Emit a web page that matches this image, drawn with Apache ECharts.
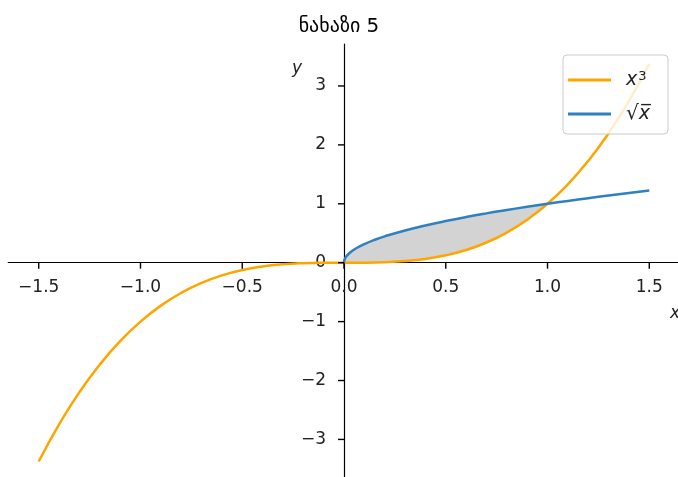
<!DOCTYPE html>
<html>
<head>
<meta charset="utf-8">
<script src="https://cdn.jsdelivr.net/npm/echarts@6/dist/echarts.min.js"></script>
<style>html,body{margin:0;padding:0;background:#fff}#c{width:678px;height:477px}</style>
</head>
<body>
<div id="c"></div>
<script>
// ---- data ----
const titleText = 'ნახაზი 5';
const cubeName = 'x³';
const rootName = '√x';
const cubeX = [-1.5,-1.4,-1.3,-1.2,-1.1,-1.0,-0.9,-0.8,-0.7,-0.6,-0.5,-0.4,-0.3,-0.2,-0.1,0,
               0.1,0.2,0.3,0.4,0.5,0.6,0.7,0.8,0.9,1.0,1.1,1.2,1.3,1.4,1.5];
const cubeY = [-3.375,-2.744,-2.197,-1.728,-1.331,-1.0,-0.729,-0.512,-0.343,-0.216,-0.125,-0.064,-0.027,-0.008,-0.001,0,
               0.001,0.008,0.027,0.064,0.125,0.216,0.343,0.512,0.729,1.0,1.331,1.728,2.197,2.744,3.375];
const rootX = [0,0.002,0.01,0.03,0.06,0.1,0.15,0.2,0.3,0.4,0.5,0.6,0.7,0.8,0.9,1.0,1.1,1.2,1.3,1.4,1.5];
const rootY = [0,0.045,0.1,0.173,0.245,0.316,0.387,0.447,0.548,0.632,0.707,0.775,0.837,0.894,0.949,1.0,1.049,1.095,1.140,1.183,1.225];
const xTicks = [-1.5,-1.0,-0.5,0,0.5,1.0,1.5];
const xTickLabels = ['−1.5','−1.0','−0.5','0.0','0.5','1.0','1.5'];
const yTicks = [-3,-2,-1,0,1,2,3];
const yTickLabels = ['−3','−2','−1','0','1','2','3'];
const shadeFrom = 0, shadeTo = 1;

// ---- build series data ----
const cubeData = cubeX.map((x,i)=>[x,cubeY[i]]);
const rootData = rootX.map((x,i)=>[x,rootY[i]]);
const shadeTop = rootData.filter(p=>p[0]>=shadeFrom && p[0]<=shadeTo);
const shadeBottom = cubeData.filter(p=>p[0]>=shadeFrom && p[0]<=shadeTo).reverse();
const shadePoly = shadeTop.concat(shadeBottom);

// ---- layout (pixels) ----
const W = 678, H = 477;
const G = {left:8.2, right:-1.8, top:44, bottom:-4.4};
const XMIN = -1.65, XMAX = 1.65, YMIN = -3.7125, YMAX = 3.7125;
const gridW = W - G.left - G.right, gridH = H - G.top - G.bottom;
// label axes are shifted onto the origin (matplotlib "zero" spines)
const xAxisOffset = -gridH * (0 - YMIN) / (YMAX - YMIN);
const yAxisOffset = -gridW * (0 - XMIN) / (XMAX - XMIN);
const TICK_LEN = 6, TICK_W = 1.4;

const FONT = 'DejaVu Sans';
const fmt = (ticks, labels) => function(v){ const k = ticks.findIndex(t=>Math.abs(t-v)<1e-9); return k>=0?labels[k]:''; };
const spine = {color:'#000', width:1.2};

const chart = echarts.init(document.getElementById('c'), null, {renderer:'canvas'});
chart.setOption({
  animation:false,
  backgroundColor:'#ffffff',
  title:{
    text:titleText, left:'center', top:12,
    textStyle:{fontFamily:FONT,fontSize:20,fontWeight:'normal',color:'#000'}
  },
  legend:{
    orient:'vertical', right:10, top:55,
    padding:[15,18,10,5],
    itemGap:14,
    itemWidth:43, itemHeight:3,
    icon:'rect',
    backgroundColor:'rgba(255,255,255,0.8)',
    borderColor:'#cccccc', borderWidth:1, borderRadius:4,
    data:[cubeName, rootName],
    formatter:function(name){
      if(name===cubeName) return '{i|x}{s|3}';
      return '{r|√}{i|x̅}';
    },
    textStyle:{
      fontFamily:FONT,fontSize:17,color:'#222',padding:[0,0,0,10],lineHeight:20,
      rich:{
        i:{fontFamily:FONT,fontStyle:'italic',fontSize:19,color:'#222'},
        s:{fontFamily:FONT,fontSize:13,color:'#222',verticalAlign:'top',padding:[0,0,8,1]},
        r:{fontFamily:FONT,fontSize:20,color:'#222'}
      }
    }
  },
  grid:{left:G.left, right:G.right, top:G.top, bottom:G.bottom, containLabel:false, outerBoundsMode:'none'},
  xAxis:{
    type:'value', min:XMIN, max:XMAX, position:'bottom', offset:xAxisOffset,
    axisLine:{show:true, onZero:false, lineStyle:spine},
    axisTick:{show:false},
    axisLabel:{
      customValues:xTicks, margin:16,
      fontFamily:FONT, fontSize:17, color:'#222',
      formatter:fmt(xTicks, xTickLabels)
    },
    splitLine:{show:false}
  },
  yAxis:{
    type:'value', min:YMIN, max:YMAX, position:'left', offset:yAxisOffset,
    axisLine:{show:true, onZero:false, lineStyle:spine},
    axisTick:{show:false},
    axisLabel:{
      customValues:yTicks, margin:18,
      fontFamily:FONT, fontSize:17, color:'#222',
      formatter:fmt(yTicks, yTickLabels)
    },
    splitLine:{show:false}
  },
  graphic:[
    {type:'text', left:670, top:305, style:{text:'x', font:'italic 17px "DejaVu Sans"', fill:'#222'}},
    {type:'text', left:292, top:60, style:{text:'y', font:'italic 17px "DejaVu Sans"', fill:'#222'}}
  ],
  series:[
    {
      type:'custom', name:'shade', silent:true, z:1,
      data:[[0,0]],
      renderItem:function(params, api){
        const pts = shadePoly.map(p=>api.coord(p));
        return {type:'polygon', shape:{points:pts}, style:{fill:'#d3d3d3', stroke:'#d3d3d3', lineWidth:0.5}};
      }
    },
    {
      type:'line', name:cubeName, data:cubeData, showSymbol:false, symbol:'none',
      smooth:true, z:3,
      itemStyle:{color:'#ffa500'},
      lineStyle:{color:'#ffa500', width:2.5}
    },
    {
      type:'line', name:rootName, data:rootData, showSymbol:false, symbol:'none',
      smooth:true, z:4,
      itemStyle:{color:'#2f80c0'},
      lineStyle:{color:'#2f80c0', width:2.5}
    },
    { // x-axis tick marks (pointing down from the spine at y = 0)
      type:'scatter', name:'xticks', silent:true, z:10,
      data:xTicks.map(v=>[v,0]),
      symbol:'rect', symbolSize:[TICK_W, TICK_LEN], symbolOffset:[0, TICK_LEN/2],
      itemStyle:{color:'#000', opacity:1}
    },
    { // y-axis tick marks (pointing left from the spine at x = 0)
      type:'scatter', name:'yticks', silent:true, z:10,
      data:yTicks.map(v=>[0,v]),
      symbol:'rect', symbolSize:[TICK_LEN, TICK_W], symbolOffset:[-TICK_LEN/2, 0],
      itemStyle:{color:'#000', opacity:1}
    }
  ]
});
</script>
</body>
</html>
